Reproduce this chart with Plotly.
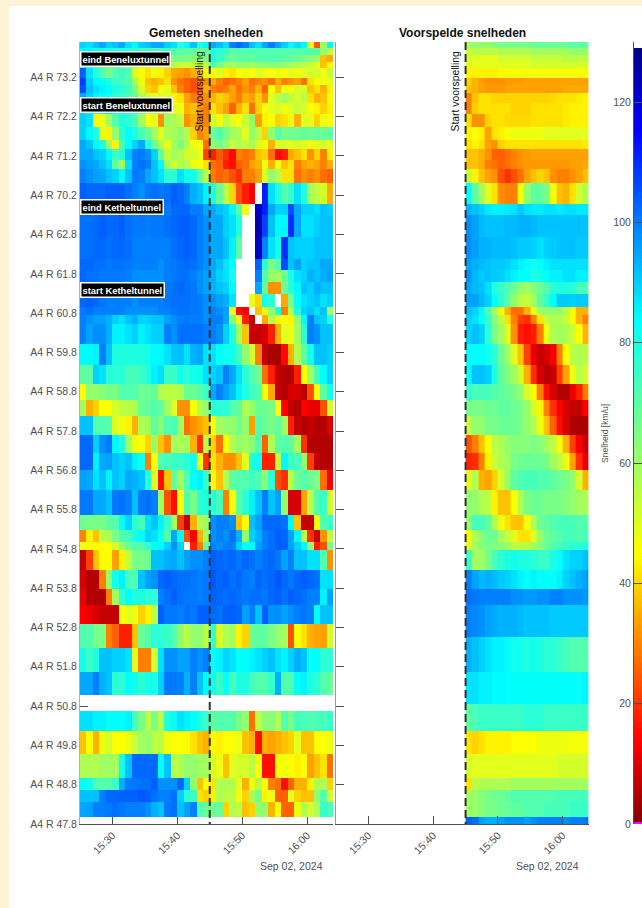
import plotly.graph_objects as go

W, H = 642, 908
NA = None

DAY = "2024-09-02 "
TIME_LABELS = ["15:30", "15:40", "15:50", "16:00"]
ROW_LABELS = ["A4 R 47.8", "A4 R 48.8", "A4 R 49.8", "A4 R 50.8", "A4 R 51.8", "A4 R 52.8", "A4 R 53.8",
              "A4 R 54.8", "A4 R 55.8", "A4 R 56.8", "A4 R 57.8", "A4 R 58.8", "A4 R 59.8", "A4 R 60.8",
              "A4 R 61.8", "A4 R 62.8", "A4 R 70.2", "A4 R 71.2", "A4 R 72.2", "A4 R 73.2"]
TUNNELS = ["eind Beneluxtunnel", "start Beneluxtunnel", "eind Ketheltunnel", "start Ketheltunnel"]

# minute edges
MEASURED_TIMES = ["15:25", "15:26", "15:27", "15:28", "15:29", "15:30", "15:31", "15:32", "15:33", "15:34",
                  "15:35", "15:36", "15:37", "15:38", "15:39", "15:40", "15:41", "15:42", "15:43", "15:44",
                  "15:45", "15:46", "15:47", "15:48", "15:49", "15:50", "15:51", "15:52", "15:53", "15:54",
                  "15:55", "15:56", "15:57", "15:58", "15:59", "16:00", "16:01", "16:02", "16:03", "16:04"]
PREDICTED_TIMES = MEASURED_TIMES[20:]

# row edges along the categorical location axis, top to bottom
MEASURED_EDGES = [19.90, 19.74, 19.57, 19.40, 19.23, 18.98, 18.80, 18.59, 18.34, 18.08, 17.73, 17.40, 17.18, 16.90,
                  16.68, 16.30, 15.79, 15.50, 14.94, 14.39, 14.10, 13.80, 13.50, 13.16, 12.95, 12.72, 12.21, 11.68,
                  11.19, 10.79, 10.39, 9.90, 9.43, 9.01, 8.50, 7.86, 7.48, 7.17, 6.97, 6.46, 5.98, 5.57, 5.08, 4.47,
                  3.88, 3.28, 2.88, 2.37, 1.77, 1.16, 0.87, 0.57, 0.19, 0.0]
PREDICTED_EDGES = MEASURED_EDGES[:42] + [4.77, 3.88, 3.05, 2.37, 1.77, 1.16, 0.87, 0.57, 0.19, 0.0]

MEASURED = [
 [90,88,92,95,90,92,95,88,85,90,92,95,95,90,88,80,85,92,80,85,95,92,88,100,103,100,92,88,95,100,95,90,85,88,85,50,25,60,85],
 [85,85,82,82,80,80,80,78,78,75,75,72,75,75,72,70,70,70,68,68,80,78,75,70,72,72,72,72,72,72,72,72,72,72,72,72,72,62,55],
 [80,78,75,75,72,72,72,70,70,70,68,68,68,68,66,66,66,64,64,66,80,76,70,68,70,70,70,72,72,72,72,70,70,68,66,64,62,38,35],
 [78,72,70,66,66,66,64,64,62,58,58,56,56,58,56,54,54,54,52,56,72,66,60,60,62,62,60,62,62,64,64,62,60,58,56,54,50,38,45],
 [104,88,80,72,66,72,76,72,52,45,42,48,44,40,35,34,32,36,38,45,45,50,44,42,46,48,46,50,48,46,48,46,50,48,50,52,52,48,55],
 [108,90,85,84,80,76,74,72,60,48,38,36,38,42,32,28,26,24,28,32,35,30,26,28,30,34,28,30,32,28,36,30,32,34,28,42,45,48,50],
 [106,92,88,86,84,80,78,75,66,52,40,38,46,50,38,30,26,24,26,36,30,28,30,34,28,32,30,36,26,46,38,48,46,52,52,38,42,36,44],
 [95,90,86,84,82,78,75,72,70,58,52,50,52,50,44,42,34,30,28,32,36,40,38,34,30,36,34,40,32,50,56,60,56,52,56,42,36,38,46],
 [90,85,82,86,88,84,80,76,75,68,60,58,60,56,50,48,36,38,32,30,42,38,34,26,36,42,28,40,46,50,52,48,50,54,52,46,44,40,44],
 [90,88,45,48,60,72,80,78,74,60,46,50,32,60,58,55,32,36,30,30,52,48,56,50,46,54,62,34,44,46,40,42,48,36,50,50,40,48,46],
 [90,85,80,50,44,62,78,84,80,74,68,60,50,58,60,62,58,40,30,34,68,72,66,60,58,50,62,56,40,62,72,66,68,68,70,68,70,68,70],
 [95,92,85,80,60,44,75,84,90,95,80,68,58,50,60,66,58,48,46,28,62,66,62,54,58,56,58,50,48,36,50,52,50,52,50,48,50,52,50],
 [95,95,92,90,85,75,78,92,100,101,98,90,70,55,60,58,52,52,48,22,18,25,20,15,30,28,30,38,40,28,15,18,35,38,42,32,40,30,44],
 [98,96,95,92,88,70,58,88,100,102,100,92,85,60,52,58,58,48,46,42,28,26,18,16,26,28,34,36,48,36,48,38,42,30,34,36,34,30,36],
 [100,98,96,95,92,90,85,92,101,100,95,92,88,78,78,88,82,82,68,56,30,26,28,24,20,30,30,34,50,62,56,42,42,28,32,30,32,28,26],
 [104,103,103,103,104,104,104,102,100,98,101,102,101,102,104,103,100,94,92,86,80,68,56,40,24,18,14,NA,112,88,80,72,76,88,80,60,55,52,35],
 [101,100,100,100,100,100,101,100,100,100,100,100,100,101,103,103,103,100,100,95,95,92,90,85,70,48,NA,122,112,95,90,90,106,95,90,90,88,92,90],
 [102,102,103,104,103,103,104,102,101,101,100,101,101,102,103,104,104,103,100,98,95,95,90,88,80,NA,NA,125,108,92,85,85,110,95,88,88,90,92,92],
 [102,102,103,103,102,103,103,102,100,100,100,100,100,100,102,103,104,103,100,98,95,95,92,86,70,NA,NA,122,100,88,82,110,92,90,90,90,92,92,92],
 [103,103,102,102,101,102,102,101,100,100,100,100,98,100,101,102,103,102,100,98,95,92,88,84,NA,NA,NA,104,78,66,72,106,92,96,90,92,92,95,95],
 [103,102,102,101,101,101,101,100,98,98,98,98,98,100,101,102,102,100,98,96,94,90,88,82,NA,NA,NA,100,72,62,60,68,80,88,90,94,92,94,96],
 [103,103,102,101,101,101,100,100,98,98,98,100,100,101,102,103,102,101,98,96,94,92,90,85,NA,NA,NA,95,70,32,32,68,78,85,92,90,94,92,92],
 [103,104,103,101,100,100,100,100,98,100,100,100,100,101,102,102,102,101,100,98,98,96,94,88,NA,NA,48,40,82,78,NA,35,66,84,88,90,92,88,90],
 [101,102,100,100,100,100,100,98,98,98,98,98,100,100,101,102,102,101,100,98,100,98,96,48,16,14,NA,38,48,62,80,30,58,80,90,92,88,92,60],
 [100,98,96,96,94,90,88,92,94,90,90,92,92,96,98,100,101,100,100,98,100,100,95,65,48,18,8,NA,35,56,48,46,44,62,85,100,92,90,80],
 [100,96,98,98,94,86,86,88,90,86,88,90,90,100,98,102,102,102,102,100,100,98,90,80,60,38,8,8,10,18,36,50,48,60,78,100,98,92,92],
 [85,85,86,100,92,80,80,80,80,80,82,85,85,88,92,92,88,94,95,88,88,84,82,82,75,62,52,30,8,5,5,15,36,58,70,82,92,92,90],
 [70,70,90,88,78,78,78,74,74,76,80,86,88,76,76,82,78,82,82,88,90,92,100,95,88,78,72,68,28,18,8,6,6,18,46,60,74,84,90],
 [46,62,62,64,66,66,72,72,72,68,68,70,58,56,56,58,68,68,72,76,95,100,96,92,86,80,75,72,48,35,8,6,10,10,6,24,46,70,82],
 [60,36,40,46,46,52,56,56,58,68,70,72,70,60,50,32,32,46,58,62,78,78,78,72,70,58,62,68,68,66,45,14,8,6,14,12,12,24,52],
 [92,92,72,72,72,50,48,44,36,58,60,70,64,72,74,60,28,32,35,38,46,60,62,62,66,62,34,72,68,66,70,60,18,8,6,8,6,6,10],
 [103,103,90,98,101,85,80,60,48,46,40,62,38,32,60,58,60,36,20,56,40,28,46,58,62,60,64,72,26,58,70,72,70,60,20,6,6,6,6],
 [103,103,86,95,96,92,90,92,86,82,30,46,72,74,76,76,78,82,46,20,42,36,32,32,38,50,80,82,18,18,55,85,76,74,62,22,8,6,6],
 [96,95,88,92,86,92,90,95,94,92,78,50,16,38,70,60,72,84,86,76,45,38,58,70,72,72,75,72,64,78,24,20,56,68,72,68,66,28,14],
 [101,101,95,95,92,101,102,100,92,101,102,100,60,24,16,46,72,66,78,80,78,74,30,46,70,78,86,92,100,92,96,62,10,10,34,56,72,76,52],
 [68,66,66,66,70,72,84,90,78,74,88,92,86,76,60,22,8,36,58,60,98,100,100,98,38,46,92,96,103,103,103,102,85,38,8,8,46,72,76],
 [30,44,38,56,58,66,72,74,80,84,90,88,82,72,95,84,24,14,36,60,98,100,98,102,94,62,90,94,100,102,104,103,96,85,56,20,8,32,56],
 [48,46,46,46,46,52,62,68,72,72,78,84,85,90,98,90,NA,18,30,70,100,98,100,100,90,84,84,96,100,102,104,104,96,90,85,62,18,24,66],
 [8,22,38,46,46,34,44,55,66,66,68,92,92,94,95,92,96,98,98,100,104,103,102,103,101,103,102,100,102,103,101,96,100,92,92,88,88,72,32],
 [10,6,6,30,62,82,86,74,72,92,96,98,103,104,103,102,102,101,100,101,105,103,104,102,103,101,100,103,102,103,105,103,101,103,104,103,102,88,88],
 [12,6,6,6,30,60,78,84,80,80,78,78,100,102,104,102,101,101,100,101,104,103,102,103,102,101,102,102,101,103,104,102,104,103,102,100,100,86,96],
 [14,12,10,8,8,8,46,50,48,40,44,56,104,101,101,100,102,101,104,104,103,102,104,104,103,96,100,92,104,98,98,96,98,100,101,100,84,92,92],
 [72,72,66,66,30,26,18,18,38,68,72,78,78,76,72,62,56,62,62,56,76,52,58,60,44,40,68,70,70,66,62,60,24,46,42,36,34,34,52],
 [82,76,80,92,92,90,90,88,50,30,30,52,88,98,98,96,96,100,98,100,84,86,90,88,84,84,86,88,90,92,88,86,90,94,92,84,84,78,78],
 [95,95,100,94,92,78,78,84,82,78,82,80,90,101,101,100,94,100,92,85,82,76,84,74,80,80,74,72,72,76,94,72,72,84,86,80,78,72,68],
 [NA,NA,NA,NA,NA,NA,NA,NA,NA,NA,NA,NA,NA,NA,NA,NA,NA,NA,NA,NA,NA,NA,NA,NA,NA,NA,NA,NA,NA,NA,NA,NA,NA,NA,NA,NA,NA,NA,NA],
 [88,88,86,86,84,84,84,86,74,66,56,66,56,80,84,88,86,84,80,76,70,72,72,72,66,62,28,56,62,64,58,72,66,74,74,72,74,74,76],
 [38,46,36,48,52,46,46,48,54,60,62,56,56,48,46,46,46,42,38,36,46,44,46,46,48,38,36,16,36,34,36,38,40,50,38,38,46,46,48],
 [58,58,58,60,60,60,82,92,103,103,103,103,84,92,56,58,62,62,60,60,52,48,38,50,52,52,56,46,16,16,46,48,46,44,46,34,38,42,28],
 [84,82,72,72,72,76,94,101,101,102,102,104,98,98,98,103,90,62,38,46,42,58,58,58,50,36,48,56,46,30,28,16,26,36,36,44,58,58,40],
 [92,92,92,100,103,103,104,104,104,105,104,102,100,100,102,90,78,76,42,40,44,58,56,56,48,40,60,66,44,48,26,26,50,40,38,38,62,72,52],
 [95,96,100,100,101,102,101,100,100,100,98,94,92,101,102,92,96,100,72,68,68,68,40,58,56,38,40,62,62,36,46,26,26,48,58,52,58,76,74],
 [NA,NA,NA,NA,NA,NA,NA,NA,NA,NA,NA,NA,NA,NA,NA,NA,NA,NA,NA,NA,NA,NA,NA,NA,NA,NA,NA,NA,NA,NA,NA,NA,NA,NA,NA,NA,NA,NA,NA],
]

PREDICTED = [
 [60,62,62,62,64,66,66,66,66,66,68,68,68,68,68,68,70,70,70],
 [54,56,56,56,56,58,58,58,58,58,60,60,60,60,60,60,62,62,62],
 [52,50,50,50,50,52,52,52,52,52,54,54,54,54,54,56,56,56,56],
 [50,50,50,50,50,50,50,50,50,50,52,52,52,52,52,52,52,52,52],
 [44,44,44,44,44,45,46,46,46,47,47,47,47,47,47,47,47,46,46],
 [40,36,34,32,32,32,33,33,33,34,34,34,34,34,34,34,34,34,34],
 [38,36,34,33,33,33,34,34,34,34,34,34,34,34,34,35,35,35,35],
 [30,38,42,42,40,40,40,40,40,40,40,40,40,41,42,42,42,43,44],
 [30,40,42,42,42,42,42,40,40,40,42,42,42,42,42,43,44,44,44],
 [42,32,32,40,42,42,41,41,41,41,42,42,42,42,42,43,44,44,44],
 [44,46,44,34,42,44,46,48,48,48,48,48,50,50,50,50,50,50,50],
 [42,44,42,34,32,40,42,42,42,42,42,42,42,42,42,42,42,42,43],
 [38,38,36,32,26,26,28,30,32,33,34,34,34,34,34,34,34,34,34],
 [38,38,36,30,28,26,28,30,32,33,33,33,33,33,33,33,34,34,35],
 [54,44,38,34,32,24,20,24,28,34,38,40,38,32,30,30,32,34,38],
 [84,70,60,50,42,32,30,30,46,62,70,70,66,48,38,36,42,52,58],
 [94,92,90,87,86,86,87,88,91,88,87,87,88,88,87,88,88,87,87],
 [98,96,93,92,92,92,93,93,94,94,93,92,92,92,92,92,92,92,92],
 [98,96,94,94,93,93,93,92,91,91,90,88,90,91,92,92,92,91,91],
 [96,94,93,92,91,91,90,88,86,84,82,84,86,88,88,88,88,88,88],
 [98,93,91,92,91,90,88,86,84,84,80,82,84,86,86,88,88,86,86],
 [95,93,92,88,80,76,72,68,62,60,64,68,72,78,80,80,78,74,72],
 [96,96,93,90,84,78,70,62,56,54,60,70,76,84,91,91,90,91,91],
 [92,90,84,72,60,48,36,28,28,36,48,60,62,62,62,56,46,36,36],
 [90,88,84,76,64,56,42,30,22,20,30,42,54,58,58,54,46,36,30],
 [90,92,90,78,66,60,50,32,18,16,18,30,48,58,60,58,54,46,36],
 [84,84,84,82,78,68,60,50,38,22,12,8,10,14,30,46,56,58,56],
 [84,92,92,90,80,70,64,60,52,36,20,10,6,8,22,34,48,56,52],
 [76,74,74,74,72,70,68,66,62,52,46,30,16,10,6,6,12,18,30],
 [66,66,66,68,68,70,70,68,66,62,52,44,30,20,14,10,8,8,14],
 [55,62,62,66,66,68,68,68,66,62,58,48,38,26,16,10,6,5,6],
 [24,30,38,46,56,58,62,64,64,64,66,64,60,56,46,36,22,14,8],
 [18,20,30,44,54,58,60,66,68,68,68,68,66,60,56,48,34,20,12],
 [50,58,36,34,40,52,62,70,72,74,74,72,72,70,68,66,62,52,36],
 [62,62,58,56,44,38,38,46,58,66,68,68,66,66,66,64,62,60,58],
 [62,74,74,70,58,48,42,38,38,46,58,68,70,72,74,74,74,72,72],
 [46,58,64,68,68,60,54,50,42,42,50,62,68,70,72,74,74,72,74],
 [50,60,64,66,64,64,60,56,56,56,60,64,68,72,74,76,78,78,80],
 [76,60,60,66,74,78,80,82,80,80,78,76,76,80,84,88,90,90,92],
 [100,96,93,94,93,91,90,88,86,84,86,84,84,84,86,90,92,94,96],
 [102,101,100,100,100,100,100,98,98,97,97,98,98,100,100,98,98,98,97],
 [100,99,98,96,95,94,94,94,93,92,92,92,92,91,91,91,91,91,91],
 [94,92,90,88,86,86,84,82,82,80,82,80,78,78,76,74,72,72,72],
 [88,88,86,86,85,85,84,84,84,84,84,84,84,84,84,84,84,84,86],
 [70,74,76,76,76,76,76,76,76,78,78,78,76,76,76,76,76,76,76],
 [42,40,42,44,44,44,44,46,46,46,46,48,48,48,48,48,47,47,47],
 [52,50,50,50,50,50,50,50,50,50,50,50,50,50,52,52,52,52,52],
 [42,56,58,58,58,58,58,60,60,60,60,60,60,60,60,60,60,60,60],
 [60,62,64,66,68,68,70,72,72,72,72,72,72,72,74,74,74,74,74],
 [60,62,64,66,66,68,68,70,70,72,72,72,74,74,74,74,76,76,76],
 [104,102,96,94,94,96,98,98,98,96,98,100,100,100,100,98,100,100,101],
]

COLORBAR_TICKS = [0, 20, 40, 60, 80, 100, 120]
COLORBAR_MAX = 130

def px(x): return x / W
def py(y): return 1 - y / H
def ts(t): return DAY + t

MAGENTA_END = 0.004
SCALE = [[0, "#ff00ff"], [MAGENTA_END, "#ff00ff"], [MAGENTA_END, "#800000"], [0.11, "#ff0000"], [0.35, "#ffff00"],
         [0.5, "#80ff80"], [0.65, "#00ffff"], [0.89, "#0000ff"], [1, "#000080"]]

TICK = "#505050"
FONT = "Liberation Sans, Arial, sans-serif"
fig = go.Figure()

fig.add_trace(go.Heatmap(x=[ts(t) for t in MEASURED_TIMES], y=MEASURED_EDGES[::-1], z=MEASURED[::-1],
                         coloraxis="coloraxis", xaxis="x", yaxis="y", hoverongaps=False))
fig.add_trace(go.Heatmap(x=[ts(t) for t in PREDICTED_TIMES], y=PREDICTED_EDGES[::-1], z=PREDICTED[::-1],
                         coloraxis="coloraxis", xaxis="x2", yaxis="y2", hoverongaps=False))
levels = list(range(0, COLORBAR_MAX))
fig.add_trace(go.Heatmap(x=[0, 1], y=[0, 0.25] + list(range(1, COLORBAR_MAX + 1)), z=[[v] for v in levels],
                         coloraxis="coloraxis", xaxis="x3", yaxis="y3"))

y_range = [0, MEASURED_EDGES[0]]
x_common = dict(type="date", tickvals=[ts(t) for t in TIME_LABELS], ticktext=TIME_LABELS, tickangle=-45,
                ticks="inside", ticklen=8, tickcolor=TICK, showline=True, linecolor=TICK, linewidth=1.4,
                showgrid=False, zeroline=False, tickfont=dict(size=10.5, color=TICK, family=FONT))

axis_x1 = dict(x_common, domain=[px(80), px(333)], range=[ts("15:25"), ts("16:04")], anchor="y", layer="below traces")
axis_x2 = dict(x_common, domain=[px(336), px(588.7)], range=[ts("15:25"), ts("16:04")], anchor="y2")

fig.update_layout(
    width=W, height=H, autosize=False, margin=dict(l=0, r=0, t=0, b=0, autoexpand=False), paper_bgcolor="#fff3d6", plot_bgcolor="white",
    showlegend=False, font=dict(family=FONT),
    coloraxis=dict(cmin=0, cmax=COLORBAR_MAX, colorscale=SCALE, showscale=False),
    xaxis=axis_x1, xaxis2=axis_x2,
    yaxis=dict(domain=[py(824), py(42)], range=y_range, tickvals=list(range(len(ROW_LABELS))), ticktext=ROW_LABELS,
               ticks="inside", ticklen=8, tickcolor=TICK, showgrid=False, zeroline=False, anchor="x",
               showline=True, linecolor="#b0b0b0", linewidth=1, layer="below traces",
               tickfont=dict(size=10.5, color=TICK, family=FONT)),
    yaxis2=dict(domain=[py(824), py(42)], range=y_range, tickvals=list(range(len(ROW_LABELS))), ticktext=[""] * len(ROW_LABELS),
                ticks="inside", ticklen=8, tickcolor=TICK, showgrid=False, zeroline=False, anchor="x2",
                showline=True, linecolor="#9a9a9a", linewidth=1.4),
    xaxis3=dict(domain=[px(634), 1], range=[0, 1], showticklabels=False, ticks="", showgrid=False, zeroline=False, anchor="y3"),
    yaxis3=dict(domain=[py(824), py(42)], range=[0, COLORBAR_MAX], tickvals=COLORBAR_TICKS, ticks="inside", ticklen=8,
                tickcolor=TICK, showgrid=False, zeroline=False, anchor="x3", showline=True, linecolor=TICK, linewidth=1,
                tickfont=dict(size=10.5, color=TICK, family=FONT)),
)

# white chart background over the cream page
fig.add_shape(type="rect", xref="paper", yref="paper", x0=px(9), x1=1, y0=0, y1=py(6),
              fillcolor="white", line_width=0, layer="below")

for xa, ya in [("x", "y"), ("x2", "y2")]:
    fig.add_shape(type="line", xref=xa, yref=ya, x0=ts("15:45"), x1=ts("15:45"), y0=y_range[1], y1=0,
                  line=dict(color="#303030", width=2, dash="8px,4px"), layer="above")

def note(text, x, y, xanchor="center", **kw):
    fig.add_annotation(text=text, xref="paper", yref="paper", x=px(x), y=py(y), showarrow=False,
                       xanchor=xanchor, yanchor="middle", **kw)

note("<b>Gemeten snelheden</b>", 206, 33, font=dict(size=12, color="#111111", family=FONT))
note("<b>Voorspelde snelheden</b>", 462, 33, font=dict(size=12, color="#111111", family=FONT))
note("Start voorspelling", 199.5, 91, textangle=-90, font=dict(size=10.4, color="#111111", family=FONT))
note("Start voorspelling", 455.5, 91, textangle=-90, font=dict(size=10.4, color="#111111", family=FONT))
note("Sep 02, 2024", 291, 866, font=dict(size=10.5, color=TICK, family=FONT))
note("Sep 02, 2024", 547, 866, font=dict(size=10.5, color=TICK, family=FONT))
note("Snelheid [km/u]", 605, 434, textangle=-90, font=dict(size=8.6, color=TICK, family=FONT))

for label, y in zip(TUNNELS, [59, 105, 207, 290]):
    note(f"<b>{label}</b>", 80, y, xanchor="left", bgcolor="black", bordercolor="white", borderwidth=1.5, borderpad=1,
         font=dict(size=9.4, color="white", family=FONT))

fig.write_html("out.html", default_width="642px", default_height="908px",
               config={"displayModeBar": False, "responsive": False},
               post_script="document.body.style.margin='0';document.body.style.overflow='hidden';document.body.style.background='#fff3d6';")
